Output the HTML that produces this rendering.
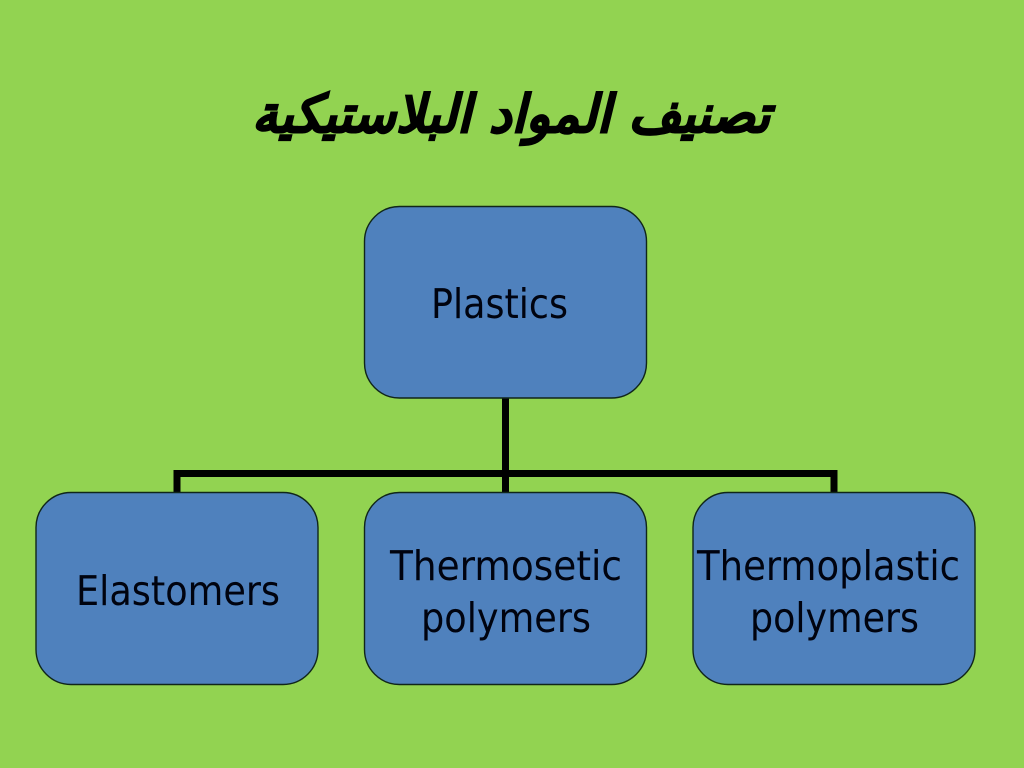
<!DOCTYPE html>
<html lang="en">
<head>
<meta charset="utf-8">
<style>
html,body{margin:0;padding:0;width:1024px;height:768px;overflow:hidden;background:#92d351}
svg{display:block}
.t{font-family:"DejaVu Sans","Liberation Sans",sans-serif;font-size:41px;fill:#00030f;text-anchor:start}
</style>
</head>
<body>
<svg width="1024" height="768" viewBox="0 0 1024 768" xmlns="http://www.w3.org/2000/svg">
<rect width="1024" height="768" fill="#92d351"/>
<text x="770" y="132" direction="rtl" textLength="518" lengthAdjust="spacingAndGlyphs" font-family="'DejaVu Sans',sans-serif" font-weight="bold" font-style="italic" font-size="52" fill="#000" stroke="#000" stroke-width="1.400">تصنيف المواد البلاستيكية</text>
<g fill="none" stroke="#000" stroke-width="7">
<path d="M505.500 398V492"/>
<path d="M177 492V473.500H834V492"/>
</g>
<g fill="#4f81bd" stroke="#10261a" stroke-width="1.400">
<rect x="364.500" y="206.500" width="282" height="191.500" rx="35"/>
<rect x="36" y="492.500" width="282" height="192" rx="35"/>
<rect x="364.500" y="492.500" width="282" height="192" rx="35"/>
<rect x="693" y="492.500" width="282" height="192" rx="35"/>
</g>
<text class="t" x="431" y="318" textLength="137" lengthAdjust="spacingAndGlyphs">Plastics</text>
<text class="t" x="76" y="605" textLength="204" lengthAdjust="spacingAndGlyphs">Elastomers</text>
<text class="t" x="390" y="580" textLength="232" lengthAdjust="spacingAndGlyphs">Thermosetic</text>
<text class="t" x="421" y="632" textLength="170" lengthAdjust="spacingAndGlyphs">polymers</text>
<text class="t" x="697" y="580" textLength="263" lengthAdjust="spacingAndGlyphs">Thermoplastic</text>
<text class="t" x="750" y="632" textLength="169" lengthAdjust="spacingAndGlyphs">polymers</text>
</svg>
</body>
</html>
